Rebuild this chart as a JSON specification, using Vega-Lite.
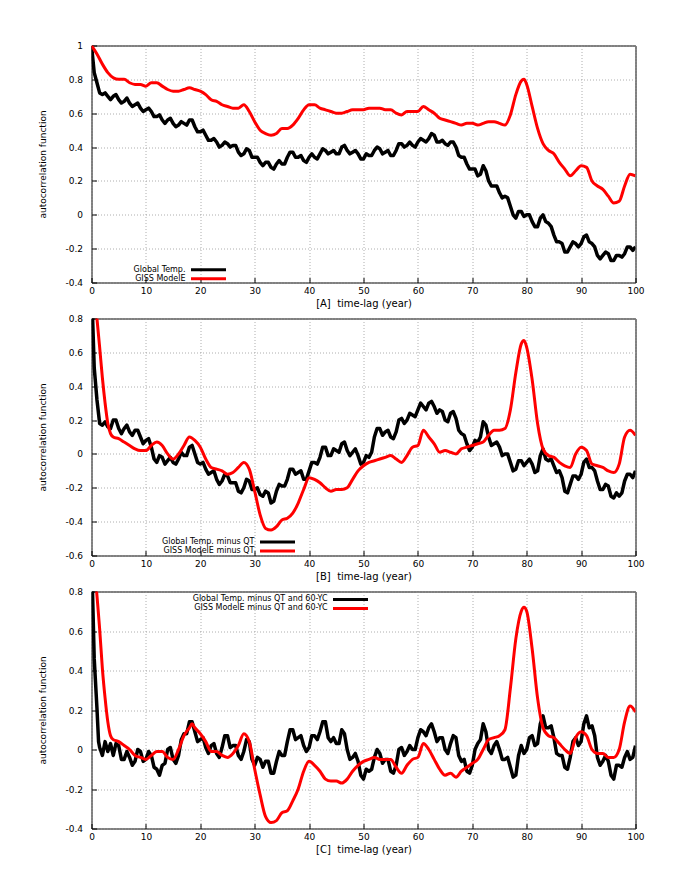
{
"$schema": "https://vega.github.io/schema/vega-lite/v6.json",
"background": "white",
"padding": {"left": 37.5, "top": 40.5, "right": 5, "bottom": 5},
"spacing": 4,
"config": {
 "view": {"stroke": "black", "strokeWidth": 1},
 "font": "DejaVu Sans",
 "axis": {"labelFont": "DejaVu Sans", "labelFontSize": 9, "labelColor": "black", "labelOverlap": false, "labelFlush": false, "labelBound": false, "titleFont": "DejaVu Sans", "titleFontWeight": "normal", "titleColor": "black", "grid": true, "gridColor": "#9a9a9a", "gridDash": [1, 2], "gridWidth": 0.8, "domain": false, "ticks": true, "tickColor": "black", "tickSize": -5, "tickWidth": 1, "tickCount": 20},
 "axisX": {"labelPadding": 9, "titleFontSize": 10, "titlePadding": 3},
 "axisY": {"labelPadding": 14, "titleFontSize": 9, "titlePadding": 17},
 "legend": {"orient": "none", "title": null, "symbolType": "M-5,0H5", "symbolSize": 49, "symbolStrokeWidth": 3, "labelAlign": "right", "labelOffset": -28, "labelFontSize": 8, "labelFont": "DejaVu Sans", "labelColor": "black", "labelLimit": 0, "padding": 0}
},
"resolve": {"scale": {"color": "independent"}, "legend": {"color": "independent"}},
"datasets": {
 "a_black": [{"t":0,"v":1.0},{"t":0.5,"v":0.84},{"t":1,"v":0.78},{"t":1.5,"v":0.72},{"t":2,"v":0.71},{"t":2.5,"v":0.72},{"t":3,"v":0.70},{"t":3.5,"v":0.68},{"t":4,"v":0.70},{"t":4.5,"v":0.71},{"t":5,"v":0.68},{"t":5.5,"v":0.66},{"t":6,"v":0.67},{"t":6.5,"v":0.69},{"t":7,"v":0.66},{"t":7.5,"v":0.64},{"t":8,"v":0.65},{"t":8.5,"v":0.66},{"t":9,"v":0.63},{"t":9.5,"v":0.61},{"t":10,"v":0.62},{"t":10.5,"v":0.63},{"t":11,"v":0.61},{"t":11.5,"v":0.58},{"t":12,"v":0.58},{"t":12.5,"v":0.59},{"t":13,"v":0.56},{"t":13.5,"v":0.54},{"t":14,"v":0.56},{"t":14.5,"v":0.57},{"t":15,"v":0.54},{"t":15.5,"v":0.52},{"t":16,"v":0.53},{"t":16.5,"v":0.55},{"t":17,"v":0.54},{"t":17.5,"v":0.53},{"t":18,"v":0.56},{"t":18.5,"v":0.56},{"t":19,"v":0.52},{"t":19.5,"v":0.49},{"t":20,"v":0.49},{"t":20.5,"v":0.50},{"t":21,"v":0.47},{"t":21.5,"v":0.44},{"t":22,"v":0.44},{"t":22.5,"v":0.45},{"t":23,"v":0.43},{"t":23.5,"v":0.40},{"t":24,"v":0.41},{"t":24.5,"v":0.43},{"t":25,"v":0.42},{"t":25.5,"v":0.40},{"t":26,"v":0.41},{"t":26.5,"v":0.41},{"t":27,"v":0.37},{"t":27.5,"v":0.35},{"t":28,"v":0.36},{"t":28.5,"v":0.39},{"t":29,"v":0.38},{"t":29.5,"v":0.34},{"t":30,"v":0.34},{"t":30.5,"v":0.34},{"t":31,"v":0.31},{"t":31.5,"v":0.29},{"t":32,"v":0.31},{"t":32.5,"v":0.31},{"t":33,"v":0.28},{"t":33.5,"v":0.27},{"t":34,"v":0.30},{"t":34.5,"v":0.32},{"t":35,"v":0.30},{"t":35.5,"v":0.30},{"t":36,"v":0.34},{"t":36.5,"v":0.37},{"t":37,"v":0.37},{"t":37.5,"v":0.34},{"t":38,"v":0.34},{"t":38.5,"v":0.35},{"t":39,"v":0.32},{"t":39.5,"v":0.31},{"t":40,"v":0.34},{"t":40.5,"v":0.36},{"t":41,"v":0.34},{"t":41.5,"v":0.33},{"t":42,"v":0.36},{"t":42.5,"v":0.39},{"t":43,"v":0.38},{"t":43.5,"v":0.36},{"t":44,"v":0.37},{"t":44.5,"v":0.38},{"t":45,"v":0.36},{"t":45.5,"v":0.36},{"t":46,"v":0.40},{"t":46.5,"v":0.41},{"t":47,"v":0.38},{"t":47.5,"v":0.36},{"t":48,"v":0.37},{"t":48.5,"v":0.38},{"t":49,"v":0.36},{"t":49.5,"v":0.33},{"t":50,"v":0.33},{"t":50.5,"v":0.36},{"t":51,"v":0.35},{"t":51.5,"v":0.35},{"t":52,"v":0.38},{"t":52.5,"v":0.40},{"t":53,"v":0.39},{"t":53.5,"v":0.36},{"t":54,"v":0.37},{"t":54.5,"v":0.38},{"t":55,"v":0.35},{"t":55.5,"v":0.35},{"t":56,"v":0.38},{"t":56.5,"v":0.42},{"t":57,"v":0.42},{"t":57.5,"v":0.40},{"t":58,"v":0.41},{"t":58.5,"v":0.43},{"t":59,"v":0.41},{"t":59.5,"v":0.40},{"t":60,"v":0.43},{"t":60.5,"v":0.45},{"t":61,"v":0.44},{"t":61.5,"v":0.43},{"t":62,"v":0.45},{"t":62.5,"v":0.48},{"t":63,"v":0.47},{"t":63.5,"v":0.43},{"t":64,"v":0.43},{"t":64.5,"v":0.44},{"t":65,"v":0.42},{"t":65.5,"v":0.41},{"t":66,"v":0.43},{"t":66.5,"v":0.43},{"t":67,"v":0.40},{"t":67.5,"v":0.35},{"t":68,"v":0.34},{"t":68.5,"v":0.34},{"t":69,"v":0.30},{"t":69.5,"v":0.27},{"t":70,"v":0.27},{"t":70.5,"v":0.27},{"t":71,"v":0.23},{"t":71.5,"v":0.24},{"t":72,"v":0.29},{"t":72.5,"v":0.26},{"t":73,"v":0.20},{"t":73.5,"v":0.17},{"t":74,"v":0.17},{"t":74.5,"v":0.17},{"t":75,"v":0.13},{"t":75.5,"v":0.10},{"t":76,"v":0.11},{"t":76.5,"v":0.10},{"t":77,"v":0.05},{"t":77.5,"v":0.00},{"t":78,"v":-0.02},{"t":78.5,"v":0.02},{"t":79,"v":0.02},{"t":79.5,"v":-0.01},{"t":80,"v":0.00},{"t":80.5,"v":0.00},{"t":81,"v":-0.04},{"t":81.5,"v":-0.07},{"t":82,"v":-0.07},{"t":82.5,"v":-0.02},{"t":83,"v":0.00},{"t":83.5,"v":-0.04},{"t":84,"v":-0.05},{"t":84.5,"v":-0.07},{"t":85,"v":-0.12},{"t":85.5,"v":-0.16},{"t":86,"v":-0.16},{"t":86.5,"v":-0.17},{"t":87,"v":-0.22},{"t":87.5,"v":-0.22},{"t":88,"v":-0.19},{"t":88.5,"v":-0.16},{"t":89,"v":-0.17},{"t":89.5,"v":-0.19},{"t":90,"v":-0.17},{"t":90.5,"v":-0.13},{"t":91,"v":-0.12},{"t":91.5,"v":-0.16},{"t":92,"v":-0.17},{"t":92.5,"v":-0.19},{"t":93,"v":-0.24},{"t":93.5,"v":-0.26},{"t":94,"v":-0.24},{"t":94.5,"v":-0.22},{"t":95,"v":-0.23},{"t":95.5,"v":-0.27},{"t":96,"v":-0.27},{"t":96.5,"v":-0.24},{"t":97,"v":-0.24},{"t":97.5,"v":-0.25},{"t":98,"v":-0.23},{"t":98.5,"v":-0.19},{"t":99,"v":-0.19},{"t":99.5,"v":-0.21},{"t":100,"v":-0.19}],
 "a_red": [{"t":0,"v":1.0},{"t":1,"v":0.95},{"t":2,"v":0.89},{"t":3,"v":0.84},{"t":4,"v":0.81},{"t":5,"v":0.80},{"t":6,"v":0.80},{"t":7,"v":0.78},{"t":8,"v":0.77},{"t":9,"v":0.77},{"t":10,"v":0.76},{"t":11,"v":0.78},{"t":12,"v":0.78},{"t":13,"v":0.76},{"t":14,"v":0.74},{"t":15,"v":0.73},{"t":16,"v":0.73},{"t":17,"v":0.74},{"t":18,"v":0.75},{"t":19,"v":0.74},{"t":20,"v":0.73},{"t":21,"v":0.71},{"t":22,"v":0.68},{"t":23,"v":0.67},{"t":24,"v":0.65},{"t":25,"v":0.64},{"t":26,"v":0.63},{"t":27,"v":0.63},{"t":28,"v":0.65},{"t":29,"v":0.61},{"t":30,"v":0.55},{"t":31,"v":0.50},{"t":32,"v":0.48},{"t":33,"v":0.47},{"t":34,"v":0.48},{"t":35,"v":0.51},{"t":36,"v":0.51},{"t":37,"v":0.53},{"t":38,"v":0.57},{"t":39,"v":0.62},{"t":40,"v":0.65},{"t":41,"v":0.65},{"t":42,"v":0.63},{"t":43,"v":0.62},{"t":44,"v":0.61},{"t":45,"v":0.60},{"t":46,"v":0.60},{"t":47,"v":0.61},{"t":48,"v":0.62},{"t":49,"v":0.62},{"t":50,"v":0.62},{"t":51,"v":0.63},{"t":52,"v":0.63},{"t":53,"v":0.63},{"t":54,"v":0.62},{"t":55,"v":0.62},{"t":56,"v":0.60},{"t":57,"v":0.59},{"t":58,"v":0.61},{"t":59,"v":0.61},{"t":60,"v":0.61},{"t":61,"v":0.64},{"t":62,"v":0.62},{"t":63,"v":0.60},{"t":64,"v":0.57},{"t":65,"v":0.56},{"t":66,"v":0.55},{"t":67,"v":0.54},{"t":68,"v":0.53},{"t":69,"v":0.54},{"t":70,"v":0.54},{"t":71,"v":0.53},{"t":72,"v":0.54},{"t":73,"v":0.55},{"t":74,"v":0.55},{"t":75,"v":0.54},{"t":76,"v":0.53},{"t":77,"v":0.59},{"t":78,"v":0.71},{"t":79,"v":0.79},{"t":79.5,"v":0.80},{"t":80,"v":0.77},{"t":81,"v":0.64},{"t":82,"v":0.51},{"t":83,"v":0.42},{"t":84,"v":0.38},{"t":85,"v":0.36},{"t":86,"v":0.31},{"t":87,"v":0.27},{"t":88,"v":0.23},{"t":89,"v":0.26},{"t":90,"v":0.29},{"t":91,"v":0.28},{"t":92,"v":0.20},{"t":93,"v":0.17},{"t":94,"v":0.15},{"t":95,"v":0.11},{"t":96,"v":0.07},{"t":97,"v":0.08},{"t":98,"v":0.17},{"t":99,"v":0.24},{"t":100,"v":0.23}],
 "b_black": [{"t":0,"v":1.0},{"t":0.5,"v":0.51},{"t":1,"v":0.32},{"t":1.5,"v":0.18},{"t":2,"v":0.17},{"t":2.5,"v":0.19},{"t":3,"v":0.16},{"t":3.5,"v":0.15},{"t":4,"v":0.20},{"t":4.5,"v":0.20},{"t":5,"v":0.15},{"t":5.5,"v":0.12},{"t":6,"v":0.15},{"t":6.5,"v":0.17},{"t":7,"v":0.13},{"t":7.5,"v":0.11},{"t":8,"v":0.14},{"t":8.5,"v":0.14},{"t":9,"v":0.10},{"t":9.5,"v":0.06},{"t":10,"v":0.08},{"t":10.5,"v":0.09},{"t":11,"v":0.04},{"t":11.5,"v":-0.03},{"t":12,"v":-0.05},{"t":12.5,"v":-0.01},{"t":13,"v":-0.02},{"t":13.5,"v":-0.06},{"t":14,"v":-0.04},{"t":14.5,"v":-0.02},{"t":15,"v":-0.05},{"t":15.5,"v":-0.06},{"t":16,"v":-0.03},{"t":16.5,"v":0.01},{"t":17,"v":-0.01},{"t":17.5,"v":-0.01},{"t":18,"v":0.04},{"t":18.5,"v":0.05},{"t":19,"v":0.00},{"t":19.5,"v":-0.05},{"t":20,"v":-0.06},{"t":20.5,"v":-0.05},{"t":21,"v":-0.09},{"t":21.5,"v":-0.12},{"t":22,"v":-0.11},{"t":22.5,"v":-0.10},{"t":23,"v":-0.15},{"t":23.5,"v":-0.18},{"t":24,"v":-0.16},{"t":24.5,"v":-0.12},{"t":25,"v":-0.13},{"t":25.5,"v":-0.17},{"t":26,"v":-0.17},{"t":26.5,"v":-0.17},{"t":27,"v":-0.22},{"t":27.5,"v":-0.23},{"t":28,"v":-0.20},{"t":28.5,"v":-0.15},{"t":29,"v":-0.16},{"t":29.5,"v":-0.21},{"t":30,"v":-0.21},{"t":30.5,"v":-0.20},{"t":31,"v":-0.24},{"t":31.5,"v":-0.25},{"t":32,"v":-0.22},{"t":32.5,"v":-0.23},{"t":33,"v":-0.29},{"t":33.5,"v":-0.28},{"t":34,"v":-0.22},{"t":34.5,"v":-0.18},{"t":35,"v":-0.19},{"t":35.5,"v":-0.19},{"t":36,"v":-0.15},{"t":36.5,"v":-0.09},{"t":37,"v":-0.09},{"t":37.5,"v":-0.12},{"t":38,"v":-0.11},{"t":38.5,"v":-0.10},{"t":39,"v":-0.15},{"t":39.5,"v":-0.15},{"t":40,"v":-0.10},{"t":40.5,"v":-0.05},{"t":41,"v":-0.05},{"t":41.5,"v":-0.06},{"t":42,"v":-0.02},{"t":42.5,"v":0.04},{"t":43,"v":0.04},{"t":43.5,"v":-0.01},{"t":44,"v":-0.01},{"t":44.5,"v":0.03},{"t":45,"v":0.02},{"t":45.5,"v":0.01},{"t":46,"v":0.06},{"t":46.5,"v":0.07},{"t":47,"v":0.02},{"t":47.5,"v":-0.01},{"t":48,"v":0.01},{"t":48.5,"v":0.03},{"t":49,"v":-0.01},{"t":49.5,"v":-0.06},{"t":50,"v":-0.05},{"t":50.5,"v":-0.01},{"t":51,"v":-0.02},{"t":51.5,"v":0.01},{"t":52,"v":0.10},{"t":52.5,"v":0.15},{"t":53,"v":0.15},{"t":53.5,"v":0.11},{"t":54,"v":0.13},{"t":54.5,"v":0.14},{"t":55,"v":0.10},{"t":55.5,"v":0.09},{"t":56,"v":0.13},{"t":56.5,"v":0.20},{"t":57,"v":0.21},{"t":57.5,"v":0.18},{"t":58,"v":0.20},{"t":58.5,"v":0.24},{"t":59,"v":0.23},{"t":59.5,"v":0.22},{"t":60,"v":0.26},{"t":60.5,"v":0.30},{"t":61,"v":0.28},{"t":61.5,"v":0.26},{"t":62,"v":0.30},{"t":62.5,"v":0.31},{"t":63,"v":0.28},{"t":63.5,"v":0.24},{"t":64,"v":0.26},{"t":64.5,"v":0.25},{"t":65,"v":0.20},{"t":65.5,"v":0.19},{"t":66,"v":0.24},{"t":66.5,"v":0.25},{"t":67,"v":0.21},{"t":67.5,"v":0.14},{"t":68,"v":0.12},{"t":68.5,"v":0.11},{"t":69,"v":0.06},{"t":69.5,"v":0.02},{"t":70,"v":0.04},{"t":70.5,"v":0.08},{"t":71,"v":0.07},{"t":71.5,"v":0.10},{"t":72,"v":0.19},{"t":72.5,"v":0.17},{"t":73,"v":0.10},{"t":73.5,"v":0.05},{"t":74,"v":0.06},{"t":74.5,"v":0.07},{"t":75,"v":0.04},{"t":75.5,"v":-0.01},{"t":76,"v":0.00},{"t":76.5,"v":0.00},{"t":77,"v":-0.05},{"t":77.5,"v":-0.10},{"t":78,"v":-0.09},{"t":78.5,"v":-0.04},{"t":79,"v":-0.04},{"t":79.5,"v":-0.07},{"t":80,"v":-0.05},{"t":80.5,"v":-0.03},{"t":81,"v":-0.06},{"t":81.5,"v":-0.11},{"t":82,"v":-0.10},{"t":82.5,"v":-0.01},{"t":83,"v":0.03},{"t":83.5,"v":-0.03},{"t":84,"v":-0.04},{"t":84.5,"v":-0.03},{"t":85,"v":-0.07},{"t":85.5,"v":-0.11},{"t":86,"v":-0.10},{"t":86.5,"v":-0.14},{"t":87,"v":-0.22},{"t":87.5,"v":-0.23},{"t":88,"v":-0.18},{"t":88.5,"v":-0.13},{"t":89,"v":-0.13},{"t":89.5,"v":-0.15},{"t":90,"v":-0.12},{"t":90.5,"v":-0.05},{"t":91,"v":-0.03},{"t":91.5,"v":-0.08},{"t":92,"v":-0.08},{"t":92.5,"v":-0.10},{"t":93,"v":-0.16},{"t":93.5,"v":-0.21},{"t":94,"v":-0.21},{"t":94.5,"v":-0.18},{"t":95,"v":-0.19},{"t":95.5,"v":-0.25},{"t":96,"v":-0.26},{"t":96.5,"v":-0.23},{"t":97,"v":-0.25},{"t":97.5,"v":-0.23},{"t":98,"v":-0.16},{"t":98.5,"v":-0.12},{"t":99,"v":-0.12},{"t":99.5,"v":-0.14},{"t":100,"v":-0.10}],
 "b_red": [{"t":0,"v":1.0},{"t":0.5,"v":0.95},{"t":1,"v":0.80},{"t":1.5,"v":0.63},{"t":2,"v":0.45},{"t":2.5,"v":0.30},{"t":3,"v":0.18},{"t":3.5,"v":0.12},{"t":4,"v":0.10},{"t":5,"v":0.09},{"t":6,"v":0.07},{"t":7,"v":0.05},{"t":8,"v":0.03},{"t":9,"v":0.02},{"t":10,"v":0.02},{"t":11,"v":0.05},{"t":12,"v":0.07},{"t":13,"v":0.05},{"t":14,"v":0.00},{"t":15,"v":-0.03},{"t":16,"v":0.00},{"t":17,"v":0.05},{"t":18,"v":0.10},{"t":19,"v":0.08},{"t":20,"v":0.04},{"t":21,"v":-0.03},{"t":22,"v":-0.08},{"t":23,"v":-0.09},{"t":24,"v":-0.10},{"t":25,"v":-0.12},{"t":26,"v":-0.11},{"t":27,"v":-0.08},{"t":28,"v":-0.05},{"t":29,"v":-0.09},{"t":30,"v":-0.22},{"t":31,"v":-0.36},{"t":32,"v":-0.44},{"t":33,"v":-0.45},{"t":34,"v":-0.43},{"t":35,"v":-0.39},{"t":36,"v":-0.38},{"t":37,"v":-0.35},{"t":38,"v":-0.29},{"t":39,"v":-0.21},{"t":40,"v":-0.14},{"t":41,"v":-0.15},{"t":42,"v":-0.17},{"t":43,"v":-0.20},{"t":44,"v":-0.22},{"t":45,"v":-0.21},{"t":46,"v":-0.21},{"t":47,"v":-0.20},{"t":48,"v":-0.15},{"t":49,"v":-0.10},{"t":50,"v":-0.07},{"t":51,"v":-0.05},{"t":52,"v":-0.04},{"t":53,"v":-0.03},{"t":54,"v":-0.02},{"t":55,"v":-0.01},{"t":56,"v":-0.03},{"t":57,"v":-0.05},{"t":58,"v":-0.01},{"t":59,"v":0.04},{"t":60,"v":0.05},{"t":61,"v":0.14},{"t":62,"v":0.10},{"t":63,"v":0.06},{"t":64,"v":0.01},{"t":65,"v":0.02},{"t":66,"v":0.01},{"t":67,"v":0.00},{"t":68,"v":0.03},{"t":69,"v":0.04},{"t":70,"v":0.05},{"t":71,"v":0.06},{"t":72,"v":0.07},{"t":73,"v":0.11},{"t":74,"v":0.14},{"t":75,"v":0.14},{"t":76,"v":0.15},{"t":77,"v":0.26},{"t":78,"v":0.48},{"t":79,"v":0.65},{"t":79.5,"v":0.67},{"t":80,"v":0.63},{"t":81,"v":0.44},{"t":82,"v":0.18},{"t":83,"v":0.03},{"t":84,"v":-0.01},{"t":85,"v":-0.02},{"t":86,"v":-0.05},{"t":87,"v":-0.07},{"t":88,"v":-0.08},{"t":89,"v":0.00},{"t":90,"v":0.04},{"t":91,"v":0.02},{"t":92,"v":-0.06},{"t":93,"v":-0.07},{"t":94,"v":-0.08},{"t":95,"v":-0.10},{"t":96,"v":-0.11},{"t":97,"v":-0.06},{"t":98,"v":0.10},{"t":99,"v":0.14},{"t":100,"v":0.11}],
 "c_black": [{"t":0,"v":1.0},{"t":0.5,"v":0.46},{"t":1,"v":0.21},{"t":1.3,"v":0.04},{"t":1.5,"v":0.01},{"t":2,"v":-0.03},{"t":2.5,"v":0.04},{"t":3,"v":-0.01},{"t":3.5,"v":0.03},{"t":4,"v":-0.03},{"t":4.5,"v":0.03},{"t":5,"v":0.02},{"t":5.5,"v":-0.05},{"t":6,"v":-0.05},{"t":6.5,"v":-0.01},{"t":7,"v":-0.04},{"t":7.5,"v":-0.08},{"t":8,"v":-0.06},{"t":8.5,"v":0.00},{"t":9,"v":-0.01},{"t":9.5,"v":-0.06},{"t":10,"v":-0.05},{"t":10.5,"v":-0.01},{"t":11,"v":-0.03},{"t":11.5,"v":-0.09},{"t":12,"v":-0.10},{"t":12.5,"v":-0.13},{"t":13,"v":-0.08},{"t":13.5,"v":-0.07},{"t":14,"v":0.00},{"t":14.5,"v":0.01},{"t":15,"v":-0.05},{"t":15.5,"v":-0.07},{"t":16,"v":-0.03},{"t":16.5,"v":0.05},{"t":17,"v":0.08},{"t":17.5,"v":0.08},{"t":18,"v":0.14},{"t":18.5,"v":0.14},{"t":19,"v":0.09},{"t":19.5,"v":0.04},{"t":20,"v":0.05},{"t":20.5,"v":0.06},{"t":21,"v":0.01},{"t":21.5,"v":-0.02},{"t":22,"v":0.02},{"t":22.5,"v":0.03},{"t":23,"v":-0.02},{"t":23.5,"v":-0.04},{"t":24,"v":0.01},{"t":24.5,"v":0.07},{"t":25,"v":0.07},{"t":25.5,"v":0.01},{"t":26,"v":0.02},{"t":26.5,"v":0.02},{"t":27,"v":-0.03},{"t":27.5,"v":-0.05},{"t":28,"v":-0.01},{"t":28.5,"v":0.05},{"t":29,"v":0.04},{"t":29.5,"v":-0.05},{"t":30,"v":-0.08},{"t":30.5,"v":-0.04},{"t":31,"v":-0.05},{"t":31.5,"v":-0.09},{"t":32,"v":-0.06},{"t":32.5,"v":-0.06},{"t":33,"v":-0.12},{"t":33.5,"v":-0.12},{"t":34,"v":-0.06},{"t":34.5,"v":-0.01},{"t":35,"v":-0.03},{"t":35.5,"v":-0.03},{"t":36,"v":0.04},{"t":36.5,"v":0.10},{"t":37,"v":0.10},{"t":37.5,"v":0.05},{"t":38,"v":0.06},{"t":38.5,"v":0.07},{"t":39,"v":0.02},{"t":39.5,"v":-0.01},{"t":40,"v":0.01},{"t":40.5,"v":0.07},{"t":41,"v":0.07},{"t":41.5,"v":0.05},{"t":42,"v":0.09},{"t":42.5,"v":0.14},{"t":43,"v":0.14},{"t":43.5,"v":0.06},{"t":44,"v":0.04},{"t":44.5,"v":0.06},{"t":45,"v":0.03},{"t":45.5,"v":0.03},{"t":46,"v":0.10},{"t":46.5,"v":0.08},{"t":47,"v":0.00},{"t":47.5,"v":-0.05},{"t":48,"v":-0.04},{"t":48.5,"v":-0.02},{"t":49,"v":-0.06},{"t":49.5,"v":-0.13},{"t":50,"v":-0.15},{"t":50.5,"v":-0.10},{"t":51,"v":-0.11},{"t":51.5,"v":-0.10},{"t":52,"v":-0.04},{"t":52.5,"v":0.00},{"t":53,"v":-0.02},{"t":53.5,"v":-0.07},{"t":54,"v":-0.05},{"t":54.5,"v":-0.05},{"t":55,"v":-0.11},{"t":55.5,"v":-0.12},{"t":56,"v":-0.08},{"t":56.5,"v":0.00},{"t":57,"v":0.01},{"t":57.5,"v":-0.03},{"t":58,"v":-0.01},{"t":58.5,"v":0.02},{"t":59,"v":0.00},{"t":59.5,"v":0.00},{"t":60,"v":0.06},{"t":60.5,"v":0.10},{"t":61,"v":0.09},{"t":61.5,"v":0.07},{"t":62,"v":0.11},{"t":62.5,"v":0.13},{"t":63,"v":0.09},{"t":63.5,"v":0.04},{"t":64,"v":0.06},{"t":64.5,"v":0.06},{"t":65,"v":0.00},{"t":65.5,"v":-0.02},{"t":66,"v":0.03},{"t":66.5,"v":0.07},{"t":67,"v":0.06},{"t":67.5,"v":-0.03},{"t":68,"v":-0.06},{"t":68.5,"v":-0.05},{"t":69,"v":-0.11},{"t":69.5,"v":-0.12},{"t":70,"v":-0.08},{"t":70.5,"v":0.00},{"t":71,"v":0.03},{"t":71.5,"v":0.05},{"t":72,"v":0.13},{"t":72.5,"v":0.09},{"t":73,"v":0.00},{"t":73.5,"v":-0.02},{"t":74,"v":0.02},{"t":74.5,"v":0.04},{"t":75,"v":0.00},{"t":75.5,"v":-0.05},{"t":76,"v":-0.05},{"t":76.5,"v":-0.04},{"t":77,"v":-0.09},{"t":77.5,"v":-0.14},{"t":78,"v":-0.13},{"t":78.5,"v":-0.03},{"t":79,"v":0.02},{"t":79.5,"v":-0.02},{"t":80,"v":0.00},{"t":80.5,"v":0.06},{"t":81,"v":0.07},{"t":81.5,"v":0.02},{"t":82,"v":0.03},{"t":82.5,"v":0.13},{"t":83,"v":0.17},{"t":83.5,"v":0.11},{"t":84,"v":0.11},{"t":84.5,"v":0.12},{"t":85,"v":0.06},{"t":85.5,"v":-0.02},{"t":86,"v":-0.03},{"t":86.5,"v":-0.03},{"t":87,"v":-0.09},{"t":87.5,"v":-0.10},{"t":88,"v":-0.04},{"t":88.5,"v":0.04},{"t":89,"v":0.06},{"t":89.5,"v":0.02},{"t":90,"v":0.04},{"t":90.5,"v":0.13},{"t":91,"v":0.17},{"t":91.5,"v":0.11},{"t":92,"v":0.12},{"t":92.5,"v":0.07},{"t":93,"v":-0.04},{"t":93.5,"v":-0.08},{"t":94,"v":-0.06},{"t":94.5,"v":-0.03},{"t":95,"v":-0.06},{"t":95.5,"v":-0.13},{"t":96,"v":-0.15},{"t":96.5,"v":-0.08},{"t":97,"v":-0.08},{"t":97.5,"v":-0.09},{"t":98,"v":-0.04},{"t":98.5,"v":-0.01},{"t":99,"v":-0.05},{"t":99.5,"v":-0.04},{"t":100,"v":0.02}],
 "c_red": [{"t":0,"v":1.0},{"t":0.5,"v":0.95},{"t":1,"v":0.78},{"t":1.5,"v":0.61},{"t":2,"v":0.41},{"t":2.5,"v":0.26},{"t":3,"v":0.14},{"t":3.5,"v":0.07},{"t":4,"v":0.05},{"t":5,"v":0.04},{"t":6,"v":0.02},{"t":7,"v":0.00},{"t":8,"v":-0.03},{"t":9,"v":-0.04},{"t":10,"v":-0.05},{"t":11,"v":-0.03},{"t":12,"v":-0.01},{"t":13,"v":-0.01},{"t":14,"v":-0.04},{"t":15,"v":-0.05},{"t":16,"v":0.00},{"t":17,"v":0.07},{"t":18,"v":0.11},{"t":18.5,"v":0.13},{"t":19,"v":0.11},{"t":20,"v":0.08},{"t":21,"v":0.04},{"t":22,"v":-0.01},{"t":23,"v":-0.01},{"t":24,"v":-0.03},{"t":25,"v":-0.04},{"t":26,"v":-0.02},{"t":27,"v":0.02},{"t":28,"v":0.08},{"t":29,"v":0.04},{"t":30,"v":-0.10},{"t":31,"v":-0.23},{"t":32,"v":-0.34},{"t":33,"v":-0.37},{"t":34,"v":-0.36},{"t":35,"v":-0.32},{"t":36,"v":-0.31},{"t":37,"v":-0.26},{"t":38,"v":-0.20},{"t":39,"v":-0.11},{"t":40,"v":-0.06},{"t":41,"v":-0.08},{"t":42,"v":-0.11},{"t":43,"v":-0.15},{"t":44,"v":-0.16},{"t":45,"v":-0.16},{"t":46,"v":-0.17},{"t":47,"v":-0.15},{"t":48,"v":-0.11},{"t":49,"v":-0.08},{"t":50,"v":-0.06},{"t":51,"v":-0.05},{"t":52,"v":-0.04},{"t":53,"v":-0.05},{"t":54,"v":-0.05},{"t":55,"v":-0.05},{"t":56,"v":-0.09},{"t":57,"v":-0.12},{"t":58,"v":-0.08},{"t":59,"v":-0.05},{"t":60,"v":-0.04},{"t":61,"v":0.03},{"t":62,"v":0.00},{"t":63,"v":-0.05},{"t":64,"v":-0.10},{"t":65,"v":-0.13},{"t":66,"v":-0.12},{"t":67,"v":-0.14},{"t":68,"v":-0.11},{"t":69,"v":-0.09},{"t":70,"v":-0.07},{"t":71,"v":-0.05},{"t":72,"v":0.00},{"t":73,"v":0.05},{"t":74,"v":0.06},{"t":75,"v":0.07},{"t":76,"v":0.10},{"t":77,"v":0.31},{"t":78,"v":0.56},{"t":79,"v":0.70},{"t":79.5,"v":0.72},{"t":80,"v":0.70},{"t":81,"v":0.51},{"t":82,"v":0.26},{"t":83,"v":0.11},{"t":84,"v":0.07},{"t":85,"v":0.06},{"t":86,"v":0.03},{"t":87,"v":0.00},{"t":88,"v":-0.02},{"t":89,"v":0.06},{"t":90,"v":0.09},{"t":91,"v":0.07},{"t":92,"v":0.00},{"t":93,"v":-0.02},{"t":94,"v":-0.02},{"t":95,"v":-0.04},{"t":96,"v":-0.04},{"t":97,"v":0.00},{"t":98,"v":0.14},{"t":99,"v":0.22},{"t":100,"v":0.19}]
},
"vconcat": [
 {"width": 544, "height": 237,
  "resolve": {"scale": {"color": "independent"}, "legend": {"color": "independent"}},
  "layer": [
   {"data": {"name": "a_black"}, "mark": {"type": "line", "strokeWidth": 3.5, "clip": true, "strokeJoin": "round"},
    "encoding": {
     "x": {"field": "t", "type": "quantitative", "scale": {"domain": [0, 100], "nice": false}, "axis": {"values": [0,10,20,30,40,50,60,70,80,90,100], "labelOverlap": false, "title": "[A]\u00a0\u00a0time-lag (year)"}},
     "y": {"field": "v", "type": "quantitative", "scale": {"domain": [-0.4, 1], "nice": false, "zero": false}, "axis": {"values": [-0.4,-0.2,0,0.2,0.4,0.6,0.8,1], "tickCount": 20, "labelOverlap": false, "labelExpr": "'' + datum.value", "title": "autocorrelation function"}},
     "color": {"datum": "Global Temp.", "type": "nominal", "scale": {"domain": ["Global Temp."], "range": ["black"]}, "legend": {"legendX": 112, "legendY": 219.2}}
    }},
   {"data": {"name": "a_red"}, "mark": {"type": "line", "strokeWidth": 3, "clip": true, "interpolate": "monotone"},
    "encoding": {
     "x": {"field": "t", "type": "quantitative"},
     "y": {"field": "v", "type": "quantitative"},
     "color": {"datum": "GISS ModelE", "type": "nominal", "scale": {"domain": ["GISS ModelE"], "range": ["red"]}, "legend": {"legendX": 112, "legendY": 228.2}}
    }}
  ]},
 {"width": 544, "height": 237,
  "resolve": {"scale": {"color": "independent"}, "legend": {"color": "independent"}},
  "layer": [
   {"data": {"name": "b_black"}, "mark": {"type": "line", "strokeWidth": 3.5, "clip": true, "strokeJoin": "round"},
    "encoding": {
     "x": {"field": "t", "type": "quantitative", "scale": {"domain": [0, 100], "nice": false}, "axis": {"values": [0,10,20,30,40,50,60,70,80,90,100], "labelOverlap": false, "title": "[B]\u00a0\u00a0time-lag (year)"}},
     "y": {"field": "v", "type": "quantitative", "scale": {"domain": [-0.6, 0.8], "nice": false, "zero": false}, "axis": {"values": [-0.6,-0.4,-0.2,0,0.2,0.4,0.6,0.8], "tickCount": 20, "labelOverlap": false, "labelExpr": "'' + datum.value", "title": "autocorrelation function"}},
     "color": {"datum": "Global Temp. minus QT", "type": "nominal", "scale": {"domain": ["Global Temp. minus QT"], "range": ["black"]}, "legend": {"legendX": 181, "legendY": 218.4}}
    }},
   {"data": {"name": "b_red"}, "mark": {"type": "line", "strokeWidth": 3, "clip": true, "interpolate": "monotone"},
    "encoding": {
     "x": {"field": "t", "type": "quantitative"},
     "y": {"field": "v", "type": "quantitative"},
     "color": {"datum": "GISS ModelE minus QT", "type": "nominal", "scale": {"domain": ["GISS ModelE minus QT"], "range": ["red"]}, "legend": {"legendX": 181, "legendY": 227.4}}
    }}
  ]},
 {"width": 544, "height": 237,
  "resolve": {"scale": {"color": "independent"}, "legend": {"color": "independent"}},
  "layer": [
   {"data": {"name": "c_black"}, "mark": {"type": "line", "strokeWidth": 3.5, "clip": true, "strokeJoin": "round"},
    "encoding": {
     "x": {"field": "t", "type": "quantitative", "scale": {"domain": [0, 100], "nice": false}, "axis": {"values": [0,10,20,30,40,50,60,70,80,90,100], "labelOverlap": false, "title": "[C]\u00a0\u00a0time-lag (year)"}},
     "y": {"field": "v", "type": "quantitative", "scale": {"domain": [-0.4, 0.8], "nice": false, "zero": false}, "axis": {"values": [-0.4,-0.2,0,0.2,0.4,0.6,0.8], "tickCount": 20, "labelOverlap": false, "labelExpr": "'' + datum.value", "title": "autocorrelation function"}},
     "color": {"datum": "Global Temp. minus QT and 60-YC", "type": "nominal", "scale": {"domain": ["Global Temp. minus QT and 60-YC"], "range": ["black"]}, "legend": {"legendX": 254, "legendY": 2.9}}
    }},
   {"data": {"name": "c_red"}, "mark": {"type": "line", "strokeWidth": 3, "clip": true, "interpolate": "monotone"},
    "encoding": {
     "x": {"field": "t", "type": "quantitative"},
     "y": {"field": "v", "type": "quantitative"},
     "color": {"datum": "GISS ModelE minus QT and 60-YC", "type": "nominal", "scale": {"domain": ["GISS ModelE minus QT and 60-YC"], "range": ["red"]}, "legend": {"legendX": 254, "legendY": 11.9}}
    }}
  ]}
]
}
